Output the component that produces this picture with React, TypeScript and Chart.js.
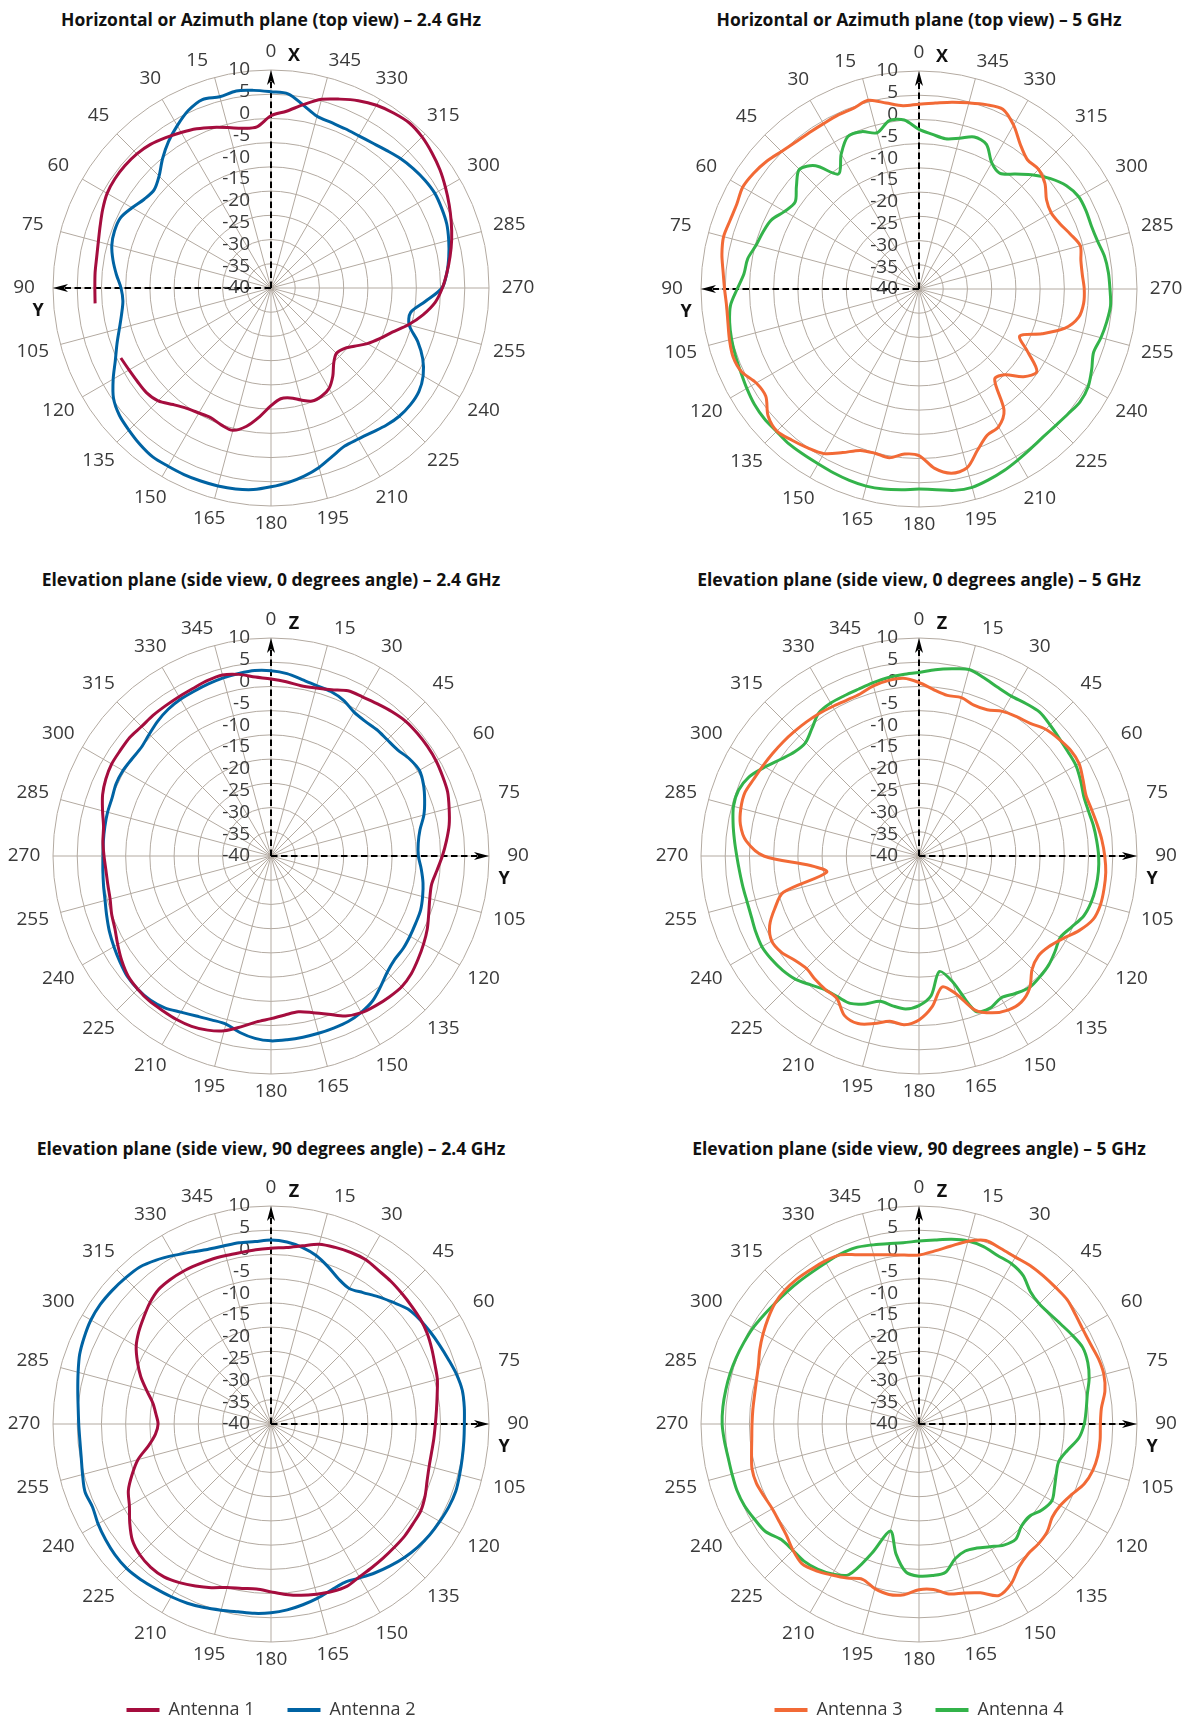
import React, { useEffect, useRef } from "react";
import { Chart, registerables } from "chart.js";

Chart.register(...registerables);
Chart.defaults.font.family = '"Open Sans", "Noto Sans", sans-serif';

// ---------- categories / scale ----------
const ANGLES = [
  0, 5, 10, 15, 20, 25, 30, 35, 40, 45, 50, 55, 60, 65, 70, 75, 80, 85, 90, 95,
  100, 105, 110, 115, 120, 125, 130, 135, 140, 145, 150, 155, 160, 165, 170, 175,
  180, 185, 190, 195, 200, 205, 210, 215, 220, 225, 230, 235, 240, 245, 250, 255,
  260, 265, 270, 275, 280, 285, 290, 295, 300, 305, 310, 315, 320, 325, 330, 335,
  340, 345, 350, 355,
];
const DB_MIN = -40;
const DB_MAX = 10;
const RING_COUNT = 10; // grid circles (incl. centre): 9 equal intervals
const RING_LABELS = [10, 5, 0, -5, -10, -15, -20, -25, -30, -35, -40];
const LABEL_STEP = 15;

// ---------- series (dB at ANGLES) ----------
// Horizontal / azimuth plane, 2.4 GHz
const AZ24_ANT1 = [
  -0.5, -2.9, -2.8, -1.9, -0.8, 0.3, 1.2, 2.1, 3.0, 3.5,
  3.7, 3.7, 3.4, 2.6, 1.7, 1.0, 0.6, 0.5, 0.4, 0.5,
  null, null, null, -2.0, -2.4, -2.6, -2.7, -3.4, -5.1, -6.3,
  -6.9, -7.2, -6.6, -6.2, -7.8, -10.4, -13.0, -14.5, -14.4, -13.4,
  -12.4, -12.6, -13.4, -15.3, -17.6, -18.8, -18.3, -16.7, -14.5, -12.5,
  -10.4, -7.4, -4.6, -2.2, -0.7, 0.5, 1.7, 2.9, 4.0, 5.1,
  6.2, 7.3, 8.2, 9.0, 9.4, 9.0, 8.4, 7.4, 6.1, 4.8,
  2.7, 0.7,
];
const AZ24_ANT2 = [
  5.0, 5.5, 5.9, 5.4, 6.0, 4.9, 3.0, 1.0, -1.3, -3.7,
  -5.0, -4.5, -3.2, -1.9, -1.8, -2.2, -3.2, -4.4, -5.6, -5.9,
  -5.2, -4.0, -2.4, -0.6, 1.8, 4.1, 5.4, 6.1, 6.8, 7.3,
  7.2, 7.2, 7.1, 7.0, 6.8, 6.4, 5.6, 4.8, 3.8, 2.6,
  1.1, 0.0, 0.0, 0.4, 1.1, 1.6, 1.7, 1.4, 0.3, -1.6,
  -4.2, -7.2, -7.5, -4.5, -0.8, 0.5, 1.4, 2.2, 2.9, 3.2,
  3.4, 3.1, 2.6, 2.0, 1.2, 0.6, 0.3, 0.3, 0.4, 0.8,
  2.6, 4.7,
];
// Horizontal / azimuth plane, 5 GHz
const AZ5_ANT3 = [
  2.4, 2.2, 3.3, 4.8, 4.1, 4.0, 3.8, 3.8, 4.0, 4.6,
  5.6, 6.3, 6.7, 6.1, 6.1, 6.4, 5.9, 5.1, 4.6, 4.3,
  4.5, 5.0, 5.4, 4.9, 3.1, 2.9, 5.2, 6.1, 5.3, 4.5,
  3.6, 1.4, -0.6, -1.0, -0.7, -2.0, -1.8, 1.3, 2.9, 2.5,
  -0.7, -3.0, -3.5, -6.0, -13.0, -12.2, -8.7, -7.0, -11.2, -14.5,
  -10.0, -5.3, -2.8, -2.1, -2.1, -2.4, -2.3, -1.7, -3.1, -4.4,
  -5.0, -4.3, -2.3, -1.2, -1.3, 0.5, 3.4, 5.5, 5.0, 4.2,
  3.5, 2.8,
];
const AZ5_ANT4 = [
  -3.4, -1.1, -0.8, -2.9, -1.6, -1.4, -4.3, -7.8, -3.1, -1.2,
  -3.3, -5.3, -4.4, -2.6, -1.9, -1.3, -0.1, 0.3, 1.7, 3.4,
  4.1, 4.5, 4.8, 5.1, 5.6, 6.1, 6.3, 6.2, 6.4, 6.3,
  6.3, 6.5, 6.7, 6.8, 6.6, 6.2, 5.9, 6.2, 6.9, 7.1,
  6.6, 6.0, 5.3, 4.7, 4.3, 4.3, 4.6, 5.1, 4.8, 3.7,
  2.6, 3.2, 3.7, 4.1, 3.8, 3.6, 3.2, 2.4, 2.1, 2.3,
  2.3, 1.3, -0.6, -3.0, -5.6, -7.6, -6.6, -3.4, -2.9, -4.2,
  -5.0, -4.4,
];
// Elevation plane, 0 degrees, 2.4 GHz
const EL0_24_ANT1 = [
  0.6, 0.1, -0.35, -0.1, 0.6, 1.8, 2.1, 2.6, 3.2, 3.7,
  3.8, 3.8, 3.7, 3.4, 3.1, 2.3, 1.5, 0.4, -0.7, -1.8,
  -2.6, -2.3, -1.5, -0.45, 0.4, 1.2, 2.0, 2.4, 2.2, 1.9,
  1.5, 0.5, -1.4, -2.8, -3.7, -3.4, -2.7, -1.8, -0.2, 1.5,
  2.5, 3.1, 3.3, 3.3, 3.4, 3.2, 2.8, 1.8, 0.6, -0.5,
  -1.1, -1.8, -2.0, -2.0, -1.7, -1.3, -1.0, 0.0, 1.1, 1.8,
  2.2, 2.2, 2.3, 2.0, 2.1, 2.1, 2.2, 2.4, 2.8, 3.0,
  2.3, 1.2,
];
const EL0_24_ANT2 = [
  2.5, 2.0, 1.1, 0.45, 0.15, -0.6, -1.9, -2.3, -2.2, -2.3,
  -2.1, -1.2, -0.7, -1.4, -2.5, -3.7, -5.3, -6.1, -6.2, -5.4,
  -4.6, -4.0, -3.5, -3.4, -3.2, -3.0, -3.0, -2.3, -0.9, 0.6,
  1.4, 1.9, 2.0, 2.1, 2.2, 2.3, 2.4, 2.0, 1.1, -0.1,
  0.0, 0.5, 1.35, 2.5, 3.1, 3.2, 3.0, 2.3, 1.6, 0.9,
  0.1, -0.6, -1.0, -1.3, -1.5, -1.4, -1.3, -1.2, -1.2, -0.8,
  -0.8, -1.1, -1.2, -0.5, 0.4, 1.1, 1.5, 1.7, 2.0, 2.3,
  2.5, 2.7,
];
// Elevation plane, 0 degrees, 5 GHz
const EL0_5_ANT3 = [
  -0.2, -1.7, -2.6, -2.4, -3.2, -3.0, -1.7, -1.0, -0.3, 1.1,
  1.8, 2.4, 2.4, 1.5, 0.75, 1.0, 1.5, 2.1, 2.6, 3.0,
  3.1, 3.1, 2.5, 0.5, -2.0, -3.7, -4.3, -3.3, -0.5, 0.9,
  0.8, -0.3, -2.4, -7.3, -9.5, -5.3, -2.4, -1.15, -1.5, -0.2,
  0.9, 0.4, -2.3, -2.6, -3.0, -3.5, -2.8, -1.5, -1.0, -2.2,
  -4.8, -7.8, -18.5, -15.0, -4.4, -0.2, 1.6, 2.3, 2.5, 1.8,
  1.35, 1.0, 0.7, 0.4, 0.15, -0.1, -0.4, -0.6, -0.45, 0.4,
  0.85, 0.9,
];
const EL0_5_ANT4 = [
  2.1, 2.9, 3.6, 4.3, 3.5, 2.7, 2.35, 2.7, 3.05, 2.5,
  2.0, 1.7, 1.55, 0.9, 0.2, 0.2, 0.6, 0.9, 1.2, 1.3,
  1.2, 0.9, 0.2, -1.4, -2.6, -1.9, -1.15, -0.8, -0.6, -1.5,
  -2.4, -1.5, -2.1, -10.1, -13.1, -7.9, -5.7, -4.8, -5.1, -5.5,
  -3.9, -2.7, -2.7, -2.5, -1.4, 0.0, 0.8, 1.3, 1.6, 1.3,
  0.9, 0.8, 1.0, 1.3, 1.8, 2.5, 3.3, 4.05, 4.05, 3.0,
  0.8, -1.3, -2.8, -3.2, -1.8, 0.05, 0.5, 0.55, 0.7, 1.1,
  1.5, 1.8,
];
// Elevation plane, 90 degrees, 2.4 GHz
const EL90_24_ANT1 = [
  0.3, 0.65, 1.5, 2.7, 3.1, 3.4, 3.5, 3.0, 2.75, 2.4,
  2.1, 1.85, 1.4, 0.7, 0.0, -0.5, -1.3, -1.9, -2.3, -2.5,
  -2.6, -2.45, -1.9, -1.0, -0.3, -0.2, 0.0, 0.0, 0.1, 0.25,
  0.5, 1.1, 0.9, 0.4, -0.1, -0.75, -1.5, -2.0, -1.7, -1.2,
  -0.05, 1.0, 2.0, 2.8, 2.9, 2.5, 1.5, -0.45, -2.5, -3.9,
  -6.1, -8.4, -11.5, -13.4, -14.1, -13.5, -12.5, -10.5, -8.2, -6.2,
  -4.3, -3.0, -1.9, -0.7, 0.2, 0.4, 0.4, 0.25, 0.15, 0.0,
  -0.05, 0.1,
];
const EL90_24_ANT2 = [
  2.2, 1.9, 1.15, 0.0, -1.65, -3.3, -4.1, -3.2, -1.85, -0.5,
  1.0, 1.7, 2.2, 2.7, 3.3, 4.05, 4.55, 4.5, 4.35, 4.4,
  4.55, 4.8, 5.1, 5.0, 4.7, 4.4, 3.95, 3.3, 2.5, 1.65,
  0.75, 0.05, 0.5, 1.35, 2.1, 2.8, 3.3, 3.6, 3.75, 4.2,
  4.8, 5.35, 5.75, 6.1, 6.55, 6.85, 6.7, 6.3, 5.8, 5.15,
  5.4, 4.75, 4.2, 4.0, 4.1, 4.4, 5.0, 5.8, 6.7, 7.25,
  7.7, 7.8, 7.6, 7.3, 6.95, 5.9, 4.65, 3.5, 2.6, 2.25,
  2.2, 2.0,
];
// Elevation plane, 90 degrees, 5 GHz
const EL90_5_ANT3 = [
  -1.25, -0.2, 1.4, 3.4, 4.8, 4.4, 4.2, 4.4, 4.35, 4.3,
  4.35, 3.8, 3.4, 3.4, 3.8, 3.9, 3.3, 2.0, 1.6, 1.7,
  1.65, 1.25, 0.3, -1.5, -2.6, -2.7, -1.6, -1.2, -1.1, 0.0,
  2.3, 3.4, 1.2, 0.1, -0.4, -1.9, -2.0, -0.7, -0.3, -0.9,
  -2.1, -1.0, 0.0, 1.1, 1.8, 0.9, -0.3, -0.9, -1.15, -0.8,
  -0.3, -0.35, -1.0, -1.5, -1.7, -1.75, -1.7, -1.4, -0.8, 0.3,
  1.3, 2.25, 3.1, 3.45, 3.45, 3.25, 3.15, 2.8, 1.3, 0.2,
  -0.6, -1.1,
];
const EL90_5_ANT4 = [
  1.95, 2.35, 3.0, 3.45, 3.3, 2.65, 2.45, 1.6, -0.3, -1.0,
  -0.8, -0.2, 0.65, 1.45, 1.2, 0.4, -0.8, -1.5, -2.1, -3.2,
  -5.4, -6.8, -6.5, -5.7, -4.8, -5.6, -7.0, -6.8, -5.5, -6.1,
  -7.5, -8.6, -9.0, -8.0, -5.4, -5.1, -5.1, -5.9, -9.7, -14.6,
  -8.5, -1.85, -0.3, 0.6, 1.05, 0.95, 1.25, 3.0, 3.6, 4.2,
  4.45, 4.4, 4.45, 4.8, 5.15, 5.15, 5.0, 4.85, 4.6, 4.3,
  4.0, 3.5, 3.1, 2.85, 2.7, 2.6, 2.7, 2.95, 3.0, 2.5,
  2.0, 1.75,
];

const SERIES_NAMES = ["Antenna 1", "Antenna 2", "Antenna 3", "Antenna 4"];
const TITLES = [
  "Horizontal or Azimuth plane (top view) – 2.4 GHz",
  "Horizontal or Azimuth plane (top view) – 5 GHz",
  "Elevation plane (side view, 0 degrees angle) – 2.4 GHz",
  "Elevation plane (side view, 0 degrees angle) – 5 GHz",
  "Elevation plane (side view, 90 degrees angle) – 2.4 GHz",
  "Elevation plane (side view, 90 degrees angle) – 5 GHz",
];

// ---------- styles ----------
const COLORS = ["#a50d3e", "#0063a3", "#f26a36", "#33b34a"];
const GRID = "#b3aaa1";
const TEXT = "#3a3a3a";
const FONT = '"Open Sans", "Noto Sans", sans-serif';
const R = 218;
const COL_W = 595;

// azimuth plots run counter-clockwise: index i -> angle (360 - 5i)
const ccwIndex = (i: number) => (ANGLES.length - i) % ANGLES.length;
const azLabels = ANGLES.map((_, i) => ANGLES[ccwIndex(i)]);
const azOrder = (arr: (number | null)[]) => arr.map((_, i) => arr[ccwIndex(i)]);

function drawArrow(ctx: CanvasRenderingContext2D, x0: number, y0: number, x1: number, y1: number) {
  const len = Math.hypot(x1 - x0, y1 - y0);
  const ux = (x1 - x0) / len;
  const uy = (y1 - y0) / len;
  const headLen = 15;
  const headW = 4;
  const bx = x1 - ux * headLen;
  const by = y1 - uy * headLen;
  ctx.save();
  ctx.strokeStyle = "#000";
  ctx.fillStyle = "#000";
  ctx.lineWidth = 2;
  ctx.setLineDash([6.5, 3.5]);
  ctx.beginPath();
  ctx.moveTo(x0, y0);
  ctx.lineTo(bx + ux * 3, by + uy * 3);
  ctx.stroke();
  ctx.setLineDash([]);
  ctx.beginPath();
  ctx.moveTo(x1, y1);
  ctx.lineTo(bx - uy * headW, by + ux * headW);
  ctx.lineTo(bx + ux * 4, by + uy * 4);
  ctx.lineTo(bx + uy * headW, by - ux * headW);
  ctx.closePath();
  ctx.fill();
  ctx.restore();
}

const polarDecor = {
  id: "polarDecor",
  beforeDatasetsDraw(chart: any, _args: any, opts: any) {
    const scale = chart.scales.r;
    const ctx: CanvasRenderingContext2D = chart.ctx;
    const cx = scale.xCenter;
    const cy = scale.yCenter;
    const rad = scale.drawingArea;
    const labels: number[] = chart.data.labels;
    ctx.save();
    // angle labels
    ctx.font = `19px ${FONT}`;
    ctx.fillStyle = TEXT;
    ctx.textAlign = "center";
    ctx.textBaseline = "middle";
    labels.forEach((lab, i) => {
      if (lab % LABEL_STEP !== 0) return;
      const a = scale.getIndexAngle(i);
      const p = scale.getPointPosition(i, rad + 18 + 11 * Math.abs(Math.sin(a)));
      let x = p.x;
      let y = p.y;
      if (lab === 15 || lab === 345) {
        // nudge away from the top axis letters
        const s = x > cx ? 1 : -1;
        const rot = (3 * Math.PI) / 180 * s;
        const dx = x - cx;
        const dy = y - cy;
        x = cx + dx * Math.cos(rot) - dy * Math.sin(rot);
        y = cy + dx * Math.sin(rot) + dy * Math.cos(rot);
      }
      ctx.fillText(String(lab), x, y);
    });
    // axes with arrows
    const i0 = labels.indexOf(0);
    const i90 = labels.indexOf(90);
    const pTop = scale.getPointPosition(i0, rad);
    const pSide = scale.getPointPosition(i90, rad);
    drawArrow(ctx, cx, cy, pTop.x, pTop.y);
    drawArrow(ctx, cx, cy, pSide.x, pSide.y);
    // ring value labels
    ctx.font = `19px ${FONT}`;
    ctx.fillStyle = TEXT;
    ctx.textAlign = "right";
    ctx.textBaseline = "middle";
    RING_LABELS.forEach((v) => {
      const d = scale.getDistanceFromCenterForValue(v);
      ctx.fillText(String(v), cx - 21, cy - d);
    });
    // axis letters
    ctx.font = `bold 18px ${FONT}`;
    ctx.fillStyle = "#111";
    ctx.textAlign = "center";
    const qTop = scale.getPointPosition(i0, rad + 14);
    ctx.fillText(opts.topLetter, qTop.x + 23, qTop.y);
    const qSide = scale.getPointPosition(i90, rad + 15);
    ctx.fillText("Y", qSide.x, qSide.y + 23);
    ctx.restore();
  },
};

type Spec = {
  title: string;
  labels: number[];
  series: { name: string; data: (number | null)[]; color: string }[];
  cx: number;
  cy: number;
  titleY: number;
  cellLeft: number;
  cellTop: number;
  cellH: number;
  topLetter: string;
  legend: boolean;
};

const LEGEND_TITLE_PAD = 7;
const LEGEND_H = 12 + 2 * LEGEND_TITLE_PAD + (18 + 33) + 10;

function makeConfig(spec: Spec): any {
  const padLeft = spec.cx - R - spec.cellLeft;
  const padRight = spec.cellLeft + COL_W - (spec.cx + R);
  const padTop = spec.cy - R - spec.cellTop;
  const padBottom = spec.cellTop + spec.cellH - (spec.cy + R) - (spec.legend ? LEGEND_H : 0);
  return {
    type: "radar",
    data: {
      labels: spec.labels,
      datasets: spec.series.map((s) => ({
        label: s.name,
        data: s.data,
        borderColor: s.color,
        backgroundColor: s.color,
        borderWidth: 3,
        pointRadius: 0,
        pointHoverRadius: 0,
        fill: false,
        tension: 0.3,
        spanGaps: false,
      })),
    },
    options: {
      responsive: false,
      animation: false,
      events: [],
      layout: { padding: { left: padLeft, right: padRight, top: padTop, bottom: padBottom } },
      scales: {
        r: {
          min: DB_MIN,
          max: DB_MAX,
          startAngle: 0,
          ticks: { display: false, count: RING_COUNT },
          pointLabels: { display: false },
          grid: { circular: true, color: GRID, lineWidth: 1 },
          angleLines: {
            color: GRID,
            lineWidth: (c: any) => (spec.labels[c.index] % LABEL_STEP === 0 ? 1 : 0),
          },
        },
      },
      plugins: {
        tooltip: { enabled: false },
        title: { display: false },
        polarDecor: { topLetter: spec.topLetter },
        legend: {
          display: spec.legend,
          position: "bottom",
          align: "center",
          title: { display: true, text: "", padding: LEGEND_TITLE_PAD, font: { size: 10 } },
          labels: {
            boxWidth: 33,
            boxHeight: 4,
            padding: 33,
            color: TEXT,
            font: { family: FONT, size: 18 },
            generateLabels: (chart: any) =>
              Chart.defaults.plugins.legend.labels
                .generateLabels(chart)
                .map((l: any) => ({ ...l, lineWidth: 0 })),
          },
        },
      },
    },
    plugins: [polarDecor],
  };
}

function PolarChart({ spec }: { spec: Spec }) {
  const ref = useRef<HTMLCanvasElement | null>(null);
  useEffect(() => {
    const chart = new Chart(ref.current as HTMLCanvasElement, makeConfig(spec));
    return () => chart.destroy();
  }, [spec]);
  return (
    <>
      <div
        style={{
          position: "absolute",
          left: spec.cx - 300,
          top: spec.titleY - 12,
          width: 600,
          height: 24,
          lineHeight: "24px",
          textAlign: "center",
          fontFamily: FONT,
          fontWeight: 700,
          fontSize: 17.5,
          color: "#111",
          whiteSpace: "nowrap",
        }}
      >
        {spec.title}
      </div>
      <canvas
        ref={ref}
        width={COL_W}
        height={spec.cellH}
        style={{ position: "absolute", left: spec.cellLeft, top: spec.cellTop, width: COL_W, height: spec.cellH }}
      />
    </>
  );
}

const LEFT_CX = 271;
const RIGHT_CX = 919;
const ROWS = [
  { cy: 288, titleY: 19, cellTop: 0, cellH: 566 },
  { cy: 856, titleY: 579, cellTop: 566, cellH: 566 },
  { cy: 1424, titleY: 1148, cellTop: 1132, cellH: 1424 + R + LEGEND_H - 1132 },
];

const SPECS: Spec[] = [
  {
    title: TITLES[0], labels: azLabels, topLetter: "X", legend: false,
    series: [
      { name: SERIES_NAMES[0], data: azOrder(AZ24_ANT1), color: COLORS[0] },
      { name: SERIES_NAMES[1], data: azOrder(AZ24_ANT2), color: COLORS[1] },
    ],
    cx: LEFT_CX, cellLeft: 0, ...ROWS[0],
  },
  {
    title: TITLES[1], labels: azLabels, topLetter: "X", legend: false,
    series: [
      { name: SERIES_NAMES[2], data: azOrder(AZ5_ANT3), color: COLORS[2] },
      { name: SERIES_NAMES[3], data: azOrder(AZ5_ANT4), color: COLORS[3] },
    ],
    cx: RIGHT_CX, cellLeft: COL_W, ...ROWS[0], cy: 289,
  },
  {
    title: TITLES[2], labels: ANGLES, topLetter: "Z", legend: false,
    series: [
      { name: SERIES_NAMES[0], data: EL0_24_ANT1, color: COLORS[0] },
      { name: SERIES_NAMES[1], data: EL0_24_ANT2, color: COLORS[1] },
    ],
    cx: LEFT_CX, cellLeft: 0, ...ROWS[1],
  },
  {
    title: TITLES[3], labels: ANGLES, topLetter: "Z", legend: false,
    series: [
      { name: SERIES_NAMES[2], data: EL0_5_ANT3, color: COLORS[2] },
      { name: SERIES_NAMES[3], data: EL0_5_ANT4, color: COLORS[3] },
    ],
    cx: RIGHT_CX, cellLeft: COL_W, ...ROWS[1],
  },
  {
    title: TITLES[4], labels: ANGLES, topLetter: "Z", legend: true,
    series: [
      { name: SERIES_NAMES[0], data: EL90_24_ANT1, color: COLORS[0] },
      { name: SERIES_NAMES[1], data: EL90_24_ANT2, color: COLORS[1] },
    ],
    cx: LEFT_CX, cellLeft: 0, ...ROWS[2],
  },
  {
    title: TITLES[5], labels: ANGLES, topLetter: "Z", legend: true,
    series: [
      { name: SERIES_NAMES[2], data: EL90_5_ANT3, color: COLORS[2] },
      { name: SERIES_NAMES[3], data: EL90_5_ANT4, color: COLORS[3] },
    ],
    cx: RIGHT_CX, cellLeft: COL_W, ...ROWS[2],
  },
];

export default function App() {
  return (
    <div style={{ position: "absolute", left: 0, top: 0, width: 1190, height: 1721, background: "#fff", overflow: "hidden" }}>
      {SPECS.map((s, i) => (
        <PolarChart key={i} spec={s} />
      ))}
    </div>
  );
}
